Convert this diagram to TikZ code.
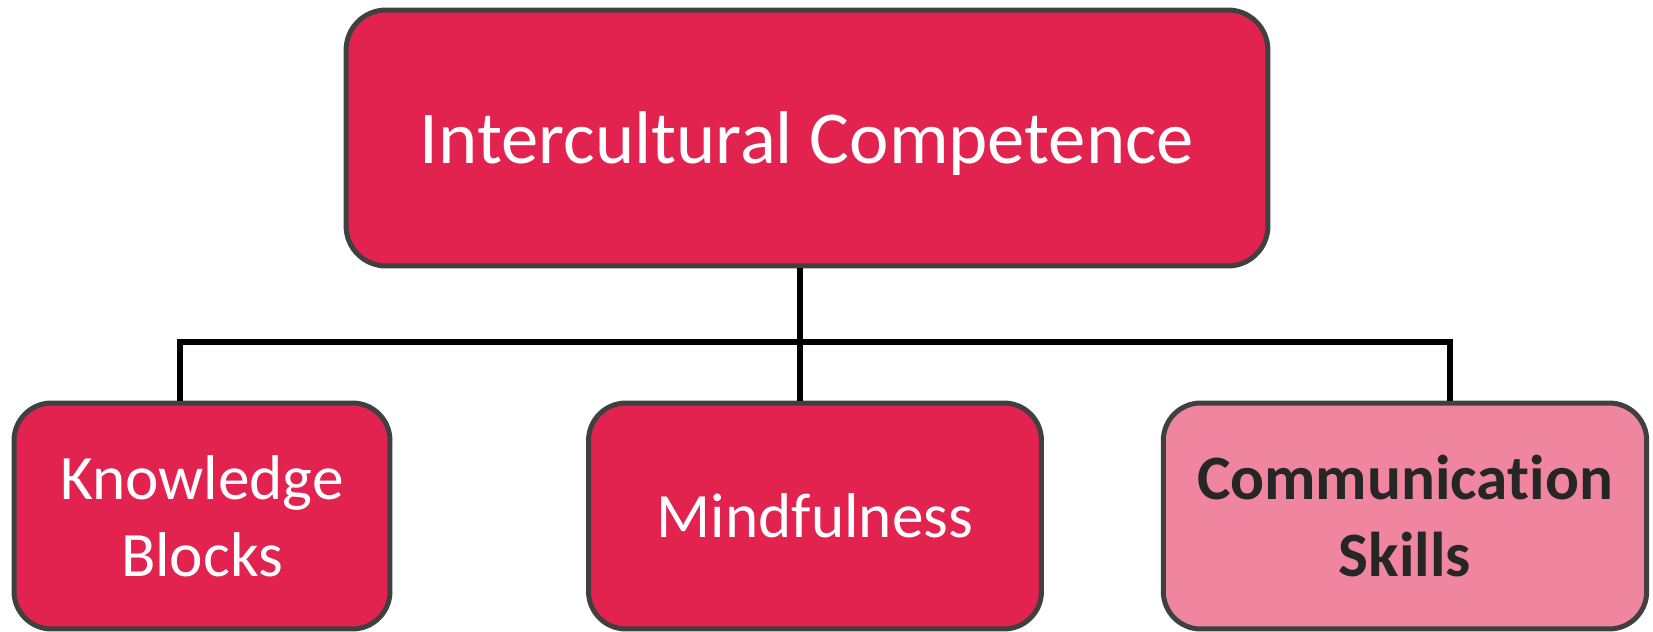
\documentclass[tikz,border=0pt]{standalone}
\usepackage{fontspec}
\setmainfont{Carlito}[Ligatures=NoCommon]
\usepackage{tikz}
\usetikzlibrary{positioning}
\usepackage{xcolor}
\definecolor{boxred}{HTML}{E3234F}
\definecolor{boxpink}{HTML}{F0859F}
\definecolor{boxedge}{HTML}{404040}
\definecolor{darktext}{HTML}{262626}

\begin{document}
\begin{tikzpicture}[x=0.02cm,y=0.02cm,
        box/.style={rectangle, draw=boxedge, line width=0.1cm, fill=boxred, rounded corners=0.8cm, text=white, align=center, inner sep=0pt},
        child/.style={box, minimum height=4.52cm, rounded corners=0.75cm, font=\fontsize{36}{44}\selectfont},
        link/.style={line width=0.12cm, black}]

                \useasboundingbox (0,0) rectangle (1653,632);

                \node[box, minimum width=18.44cm, minimum height=5.12cm, text depth=0pt, font=\fontsize{42.5}{52}\selectfont] (IC) at (807,494) {Intercultural Competence};

                \node[child, minimum width=7.52cm] (KB) at (202,116) {Knowledge\\Blocks};
                \node[child, minimum width=9.06cm] (MF) at (815,116) {Mindfulness};
                \node[child, minimum width=9.67cm, fill=boxpink, text=darktext, font=\fontsize{36}{44}\selectfont\bfseries] (CS) at (1405,116) {Communication\\Skills};

                \coordinate (busL) at (180,289.5);
                \coordinate (busM) at (800,289.5);
                \coordinate (busR) at (1450,289.5);

                \draw[link] (IC.south -| busM) -- (busM);
                \draw[link] (KB.north -| busL) |- (busR) -- (CS.north -| busR);
                \draw[link] (busM) -- (MF.north -| busM);

        \end{tikzpicture}
\end{document}
